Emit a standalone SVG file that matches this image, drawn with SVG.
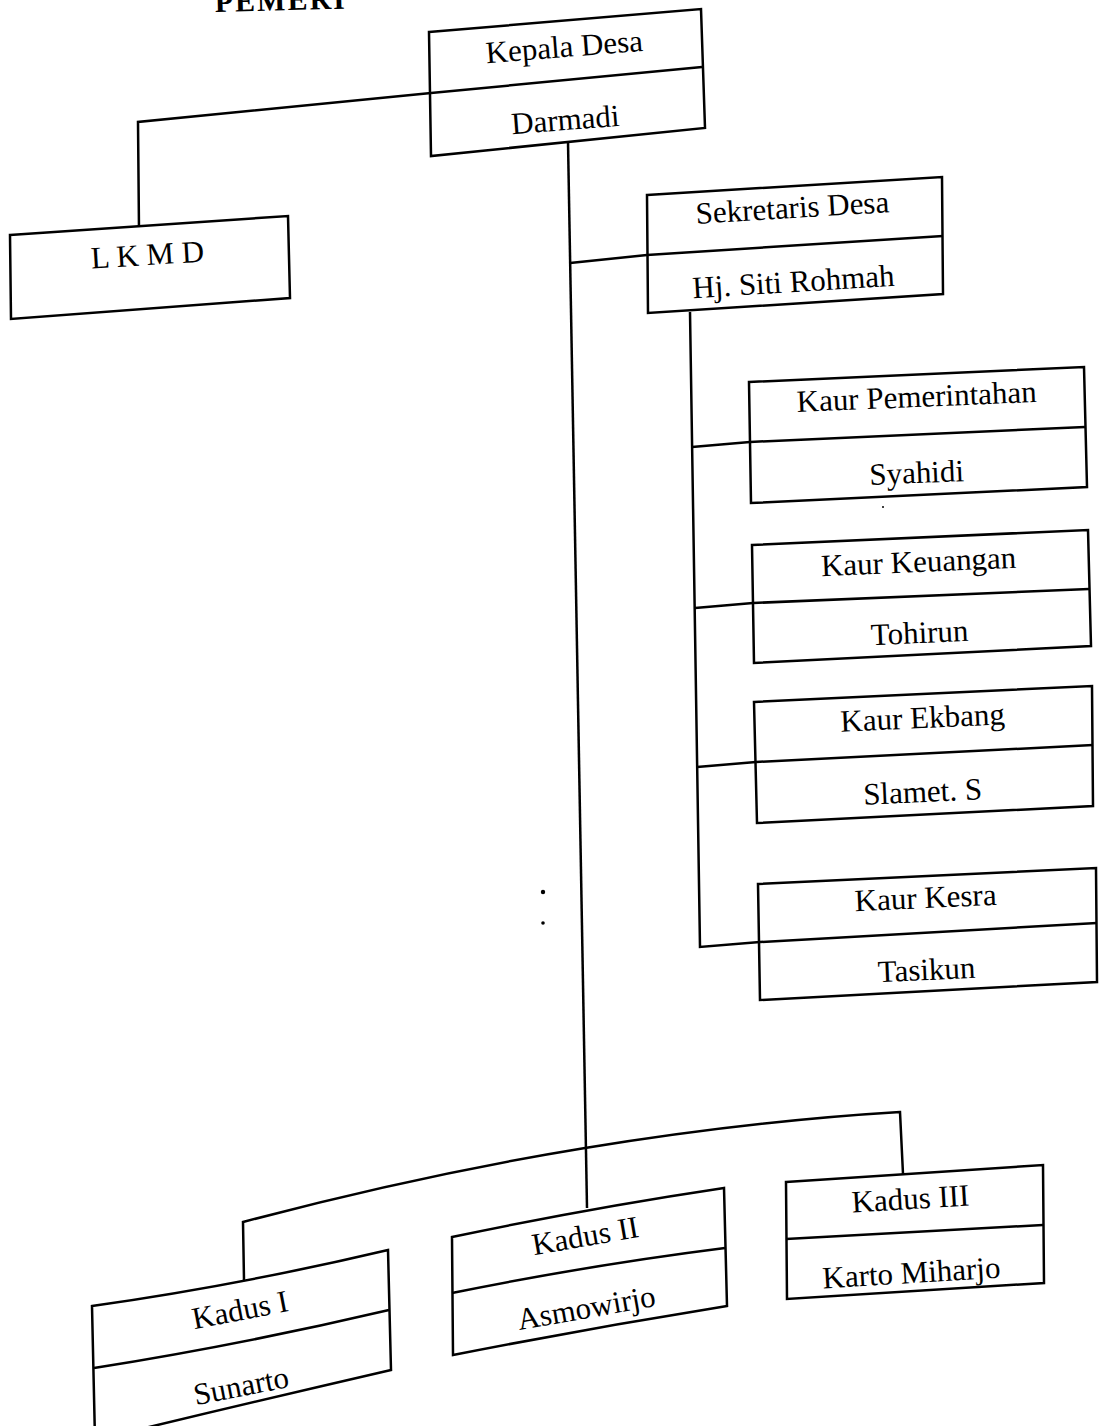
<svg xmlns="http://www.w3.org/2000/svg" width="1099" height="1426" viewBox="0 0 1099 1426">
<style>
.box{fill:#fff;stroke:#000;stroke-width:2.5;stroke-linejoin:miter}
.div{stroke:#000;stroke-width:2.5;fill:none}
.con{stroke:#000;stroke-width:2.5;fill:none}
text{font-family:"Liberation Serif","Times New Roman",serif;font-size:31px;fill:#000;text-anchor:middle}
.title{font-weight:bold;font-size:30px;text-anchor:start;letter-spacing:2px}
</style>
<rect width="1099" height="1426" fill="#fff"/>
<text class="title" x="215" y="12" transform="rotate(-1.5 215 12)">PEMERI</text>
<g id="connectors">
<path class="con" d="M431 93 L138 122 L139 230"/>
<path class="con" d="M568 142 L587 1208"/>
<path class="con" d="M570 263 L647 255"/>
<path class="con" d="M690 312 L700 947 L760 942"/>
<path class="con" d="M692 447 L750 442"/>
<path class="con" d="M695 608 L753 603"/>
<path class="con" d="M697 767 L756 762"/>
<path class="con" d="M244 1280 L243 1222 Q420 1175 585 1148 T900 1112 L903 1174"/>
<circle cx="543" cy="892" r="2.2" fill="#000"/>
<circle cx="543" cy="923" r="1.8" fill="#000"/>
<circle cx="883" cy="507" r="1" fill="#000"/>
</g>
<g id="kepala-desa">
<polygon class="box" points="429,32 701,9 705,128 431,156"/>
<line class="div" x1="431" y1="93" x2="702" y2="67"/>
<text x="565" y="57" transform="rotate(-4.5 565 57)">Kepala Desa</text>
<text x="566" y="130" transform="rotate(-4.5 566 130)">Darmadi</text>
</g>
<g id="lkmd">
<polygon class="box" points="10,235 288,216 290,298 11,319"/>
<text x="148" y="265" transform="rotate(-3.5 148 265)">L K M D</text>
</g>
<g id="sekretaris-desa">
<polygon class="box" points="647,195 942,177 943,294 648,313"/>
<line class="div" x1="647" y1="255" x2="943" y2="236"/>
<text x="793" y="218" transform="rotate(-3.5 793 218)">Sekretaris Desa</text>
<text x="794" y="292" transform="rotate(-3.5 794 292)">Hj. Siti Rohmah</text>
</g>
<g id="kaur-pemerintahan">
<polygon class="box" points="749,382 1084,367 1087,487 751,503"/>
<line class="div" x1="750" y1="442" x2="1085" y2="427"/>
<text x="917" y="407" transform="rotate(-2.4 917 407)">Kaur Pemerintahan</text>
<text x="917" y="483" transform="rotate(-2.4 917 483)">Syahidi</text>
</g>
<g id="kaur-keuangan">
<polygon class="box" points="752,545 1088,530 1091,646 754,663"/>
<line class="div" x1="753" y1="603" x2="1089" y2="589"/>
<text x="919" y="572" transform="rotate(-2.5 919 572)">Kaur Keuangan</text>
<text x="920" y="643" transform="rotate(-2.5 920 643)">Tohirun</text>
</g>
<g id="kaur-ekbang">
<polygon class="box" points="754,702 1092,686 1093,806 757,823"/>
<line class="div" x1="756" y1="762" x2="1093" y2="745"/>
<text x="923" y="728" transform="rotate(-2.6 923 728)">Kaur Ekbang</text>
<text x="923" y="802" transform="rotate(-2.6 923 802)">Slamet. S</text>
</g>
<g id="kaur-kesra">
<polygon class="box" points="758,884 1096,868 1097,982 760,1000"/>
<line class="div" x1="760" y1="942" x2="1097" y2="923"/>
<text x="926" y="908" transform="rotate(-2.6 926 908)">Kaur Kesra</text>
<text x="927" y="980" transform="rotate(-2.6 927 980)">Tasikun</text>
</g>
<g id="kadus-1">
<path class="box" d="M92 1306 Q240 1285 388 1250 L391 1370 Q240 1405 95 1440 Z"/>
<path class="div" d="M94 1368 Q240 1345 389 1310"/>
<text x="242" y="1320" transform="rotate(-11 242 1320)">Kadus I</text>
<text x="243" y="1396" transform="rotate(-11 243 1396)">Sunarto</text>
</g>
<g id="kadus-2">
<path class="box" d="M452 1237 Q590 1208 724 1188 L727 1306 Q590 1328 453 1355 Z"/>
<path class="div" d="M452 1293 Q590 1265 725 1248"/>
<text x="587" y="1246" transform="rotate(-10 587 1246)">Kadus II</text>
<text x="588" y="1318" transform="rotate(-10 588 1318)">Asmowirjo</text>
</g>
<g id="kadus-3">
<polygon class="box" points="786,1182 1043,1165 1044,1283 787,1299"/>
<line class="div" x1="786" y1="1239" x2="1043" y2="1225"/>
<text x="911" y="1209" transform="rotate(-3.5 911 1209)">Kadus III</text>
<text x="912" y="1283" transform="rotate(-3.5 912 1283)">Karto Miharjo</text>
</g>
</svg>
